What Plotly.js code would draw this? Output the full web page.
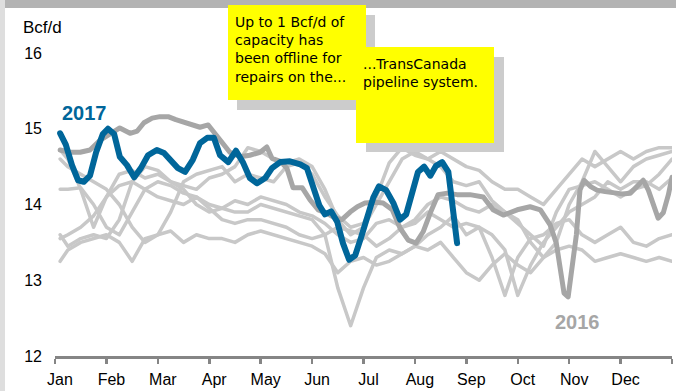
<!DOCTYPE html>
<html>
<head>
<meta charset="utf-8">
<script src="https://cdn.plot.ly/plotly-3.0.1.min.js"></script>
<style>
html,body{margin:0;padding:0;background:#fff;}
#chart{width:676px;height:391px;}
#chart path.js-line{stroke-linejoin:round;stroke-linecap:round;}
</style>
</head>
<body>
<div id="chart"></div>
<script>
// ---- data (x in months since Jan 1; values in Bcf/d) ----
const monthLabels = ["Jan","Feb","Mar","Apr","May","Jun","Jul","Aug","Sep","Oct","Nov","Dec",""];
const monthTicks = [0,1,2,3,4,5,6,7,8,9,10,11,12];
const yTicks = [12,13,14,15,16];

const gridX = [0.1,0.25,0.5,0.75,1,1.25,1.5,1.75,2,2.25,2.5,2.75,3,3.25,3.5,3.75,4,4.25,4.5,4.75,5,5.25,5.5,5.75,6,6.25,6.5,6.75,7,7.25,7.5,7.75,8,8.25,8.5,8.75,9,9.25,9.5,9.75,10,10.25,10.5,10.75,11,11.25,11.5,11.75,12];

const yearA = [14.72,14.6,14.2,13.7,14.1,14.4,14.45,14.35,14.4,14.3,14.25,14.2,14.35,14.4,14.5,14.75,14.7,14.6,14.55,14.6,14.5,14.2,13.8,13.6,13.7,14.0,14.3,14.6,14.7,14.6,14.7,14.6,14.5,14.45,14.3,14.2,14.2,14.1,14.0,14.2,14.4,14.6,14.5,14.6,14.7,14.6,14.7,14.75,14.75];
const yearB = [14.2,14.2,14.22,14.0,13.7,13.6,13.9,14.2,14.3,14.25,14.15,14.1,14.0,13.95,14.05,14.0,14.1,14.05,14.0,13.9,13.85,13.75,13.6,13.5,13.55,13.75,13.8,13.7,13.75,13.9,13.8,13.7,13.75,13.7,13.6,13.4,12.8,13.2,13.5,13.7,13.9,14.0,14.1,14.3,14.2,14.3,14.3,14.2,14.35];
const yearC = [13.6,13.45,13.55,13.6,13.55,13.8,14.3,14.5,14.45,14.3,14.2,14.0,13.9,13.95,13.9,13.9,14.0,13.95,13.9,13.85,13.8,13.6,12.9,12.4,12.9,13.3,13.4,13.35,13.45,13.6,13.7,13.85,13.6,13.7,13.3,12.8,13.3,13.55,13.6,13.75,13.8,13.6,13.5,13.6,13.7,13.5,13.45,13.55,13.6];
const yearD = [13.25,13.4,13.5,13.55,13.6,13.5,13.25,13.55,13.6,13.65,13.5,13.6,13.55,13.55,13.5,13.6,13.65,13.6,13.55,13.5,13.45,13.35,13.1,13.25,13.3,13.2,13.25,13.35,13.45,13.4,13.5,13.3,13.1,13.0,13.2,13.35,13.2,13.1,13.3,13.4,13.45,13.4,13.25,13.3,13.35,13.3,13.25,13.3,13.25];
const yearE = [13.55,13.6,13.7,13.85,14.1,14.25,14.3,14.2,14.1,14.05,14.0,14.1,13.95,13.8,13.75,13.8,13.8,13.75,13.7,13.6,13.55,13.6,13.7,13.65,13.6,13.45,13.55,13.7,13.8,14.0,14.1,14.05,13.95,13.9,14.0,13.9,13.75,13.6,13.45,13.9,14.2,14.25,14.3,14.2,14.1,14.2,14.25,14.4,14.6];
const yearF = [14.6,14.5,14.4,14.3,14.2,14.0,13.7,13.5,13.6,13.9,14.3,14.4,14.45,14.5,14.3,14.4,14.35,14.3,14.5,14.55,14.4,14.1,13.85,13.7,13.75,14.1,14.55,14.75,14.65,14.6,14.5,14.3,14.25,14.3,14.05,13.9,13.8,13.5,13.3,13.5,14.0,14.3,14.7,14.5,14.3,14.5,14.6,14.65,14.7];

const x2016 = [0.10,0.29,0.49,0.68,0.88,1.07,1.26,1.46,1.60,1.73,1.89,2.04,2.20,2.35,2.51,2.67,2.82,2.98,3.09,3.25,3.40,3.60,3.79,3.99,4.12,4.22,4.38,4.51,4.63,4.81,4.96,5.12,5.27,5.45,5.58,5.74,5.88,6.03,6.23,6.38,6.56,6.71,6.87,7.02,7.16,7.30,7.45,7.63,7.82,8.07,8.33,8.52,8.72,8.99,9.24,9.44,9.63,9.75,9.82,9.90,9.98,10.06,10.14,10.21,10.29,10.41,10.54,10.70,10.86,11.03,11.19,11.32,11.44,11.54,11.63,11.73,11.83,11.93,12.0];
const y2016 = [14.72,14.69,14.69,14.72,14.85,14.94,15.01,14.94,14.97,15.08,15.14,15.16,15.16,15.12,15.08,15.05,15.02,15.05,14.96,14.81,14.69,14.63,14.65,14.69,14.76,14.61,14.57,14.48,14.22,14.22,14.06,13.93,13.89,13.82,13.80,13.90,13.97,14.02,14.03,14.02,13.93,13.69,13.53,13.49,13.64,13.89,14.13,14.15,14.13,14.13,14.10,13.93,13.86,13.93,13.97,13.93,13.73,13.49,13.14,12.83,12.78,13.14,13.60,14.19,14.32,14.24,14.19,14.17,14.15,14.14,14.15,14.23,14.32,14.19,13.99,13.82,13.89,14.13,14.36];

const x2017 = [0.10,0.21,0.33,0.45,0.56,0.68,0.80,0.93,1.03,1.15,1.26,1.40,1.54,1.67,1.81,1.98,2.12,2.26,2.39,2.53,2.68,2.82,2.96,3.09,3.21,3.37,3.52,3.66,3.79,3.93,4.09,4.22,4.38,4.57,4.77,4.90,5.02,5.14,5.25,5.37,5.49,5.60,5.72,5.84,5.95,6.07,6.19,6.30,6.44,6.58,6.71,6.83,6.95,7.06,7.18,7.30,7.41,7.53,7.65,7.74,7.82];
const y2017 = [14.94,14.79,14.52,14.32,14.30,14.38,14.69,14.93,15.00,14.93,14.63,14.52,14.36,14.48,14.65,14.72,14.68,14.59,14.48,14.43,14.59,14.81,14.88,14.88,14.65,14.56,14.71,14.55,14.35,14.28,14.35,14.48,14.56,14.57,14.53,14.48,14.26,13.99,13.87,13.91,13.77,13.49,13.27,13.33,13.56,13.82,14.09,14.24,14.19,14.02,13.80,13.87,14.19,14.43,14.50,14.38,14.51,14.56,14.43,13.93,13.49];

const note1 = "Up to 1 Bcf/d of<br>capacity has<br>been offline for<br>repairs on the...";
const note2 = "...TransCanada<br>pipeline system.";

// ---- layout geometry (pixels) ----
const W = 676, H = 391;
const M = {l: 55, r: 4, t: 53, b: 35};
const PW = W - M.l - M.r, PH = H - M.t - M.b;
const px = p => (p - M.l) / PW;
const py = p => (H - M.b - p) / PH;

const light = '#c8c8c8';
const lightSeries = [yearA, yearB, yearC, yearD, yearE, yearF];
const traces = lightSeries.map(v => ({
  x: gridX, y: v, type: 'scatter', mode: 'lines',
  line: {color: light, width: 3.5}, hoverinfo: 'skip', showlegend: false
}));
traces.push({x: x2016, y: y2016, type: 'scatter', mode: 'lines',
  line: {color: '#a6a6a6', width: 5}, showlegend: false});
traces.push({x: x2017, y: y2017, type: 'scatter', mode: 'lines',
  line: {color: '#00669a', width: 6}, showlegend: false});

function rect(x0, y0, x1, y1, color) {
  return {type: 'rect', xref: 'paper', yref: 'paper',
    x0: px(x0), x1: px(x1), y0: py(y1), y1: py(y0),
    fillcolor: color, line: {width: 0}, layer: 'above'};
}

const shapes = [
  Object.assign(rect(0, 0, 5, H, '#dedede'), {layer: 'below'}),
  Object.assign(rect(5, 0, W, 8, '#b3b3b3'), {layer: 'below'}),
  rect(237, 15, 375, 110, '#cccccc'),
  rect(228, 5, 366, 100, '#ffff00'),
  rect(366, 57, 504, 152, '#cccccc'),
  rect(356, 47, 494, 143, '#ffff00')
];

const noteFont = {family: 'DejaVu Sans, sans-serif', size: 14, color: '#000'};
const annotations = [
  {xref: 'paper', yref: 'paper', x: px(21), y: py(27), xanchor: 'left', yanchor: 'middle',
   text: 'Bcf/d', showarrow: false, font: {family: 'Liberation Sans, Arial, sans-serif', size: 17, color: '#000'}},
  {xref: 'paper', yref: 'paper', x: px(233), y: py(12), xanchor: 'left', yanchor: 'top', align: 'left',
   text: note1, showarrow: false, font: noteFont},
  {xref: 'paper', yref: 'paper', x: px(361), y: py(54), xanchor: 'left', yanchor: 'top', align: 'left',
   text: note2, showarrow: false, font: noteFont},
  {xref: 'paper', yref: 'paper', x: px(84), y: py(113), xanchor: 'center', yanchor: 'middle',
   text: '<b>2017</b>', showarrow: false, font: {family: 'Liberation Sans, Arial, sans-serif', size: 20, color: '#00669a'}},
  {xref: 'paper', yref: 'paper', x: px(577), y: py(322), xanchor: 'center', yanchor: 'middle',
   text: '<b>2016</b>', showarrow: false, font: {family: 'Liberation Sans, Arial, sans-serif', size: 20, color: '#a6a6a6'}}
];

const layout = {
  width: W, height: H,
  margin: M,
  paper_bgcolor: '#ffffff', plot_bgcolor: '#ffffff',
  showlegend: false,
  font: {family: 'Liberation Sans, Arial, sans-serif', size: 16, color: '#000'},
  xaxis: {
    range: [0, 12], tickvals: monthTicks, ticktext: monthLabels,
    showline: true, linecolor: '#858585', linewidth: 2.5,
    ticks: 'outside', ticklen: 5, tickwidth: 2.5, tickcolor: '#858585',
    showgrid: false, zeroline: false, fixedrange: true,
    ticklabelshift: 5, ticklabelstandoff: 2,
    tickfont: {size: 16}
  },
  yaxis: {
    range: [12, 16], tickvals: yTicks, ticktext: yTicks.map(String),
    showline: false, ticks: '', showgrid: false, zeroline: false, fixedrange: true,
    ticklabelstandoff: 12, tickfont: {size: 16}
  },
  shapes: shapes,
  annotations: annotations
};

Plotly.newPlot('chart', traces, layout, {staticPlot: true, displayModeBar: false});
</script>
</body>
</html>
